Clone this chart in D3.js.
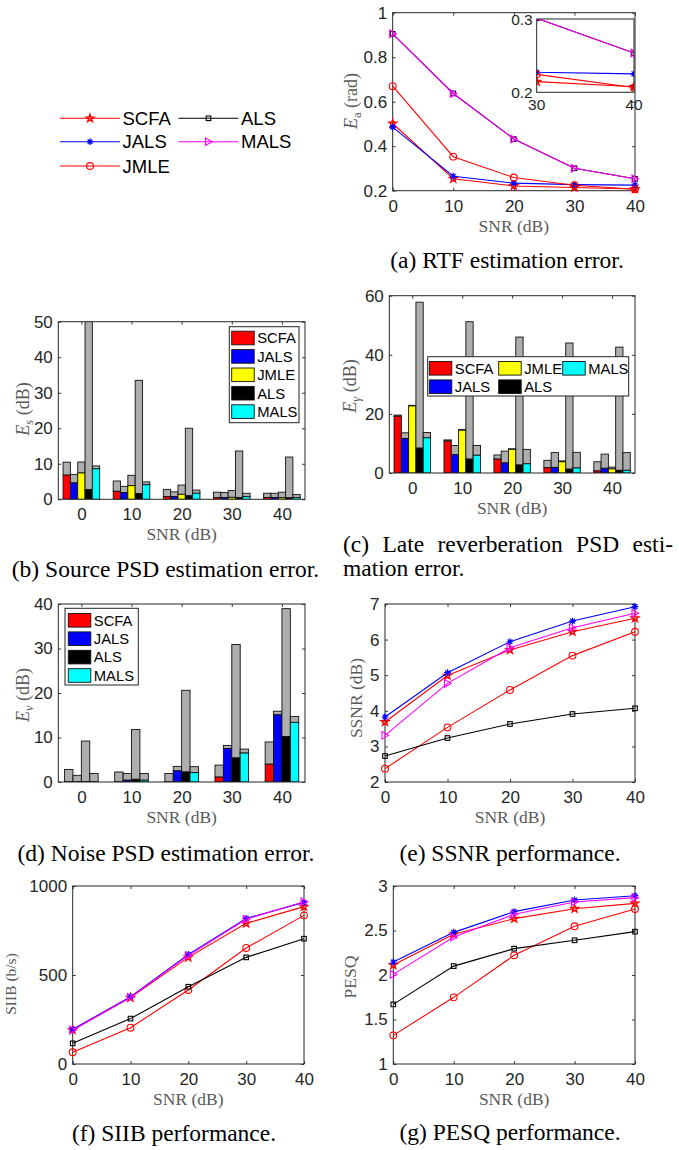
<!DOCTYPE html>
<html><head><meta charset="utf-8">
<script src="https://cdn.jsdelivr.net/npm/d3@7"></script>
<style>body{margin:0;background:#fff} svg{display:block}</style>
</head><body><svg id="c" width="679" height="1150"></svg>
<script>
// ---------------- data ----------------
const snr = [0, 10, 20, 30, 40];
const methodNames = ["SCFA", "JALS", "JMLE", "ALS", "MALS"];

// (a) RTF estimation error E_a (rad)
const rtfSCFA = [0.502, 0.254, 0.221, 0.2145, 0.2075];
const rtfJALS = [0.486, 0.265, 0.234, 0.2273, 0.2252];
const rtfJMLE = [0.670, 0.353, 0.259, 0.2245, 0.2065];
const rtfALS  = [0.905, 0.637, 0.432, 0.301, 0.2535];
const rtfMALS = [0.905, 0.637, 0.432, 0.301, 0.2535];

// (b) Source PSD error: coloured part and total (grey cap)
const srcSCFA = [6.8, 2.25, 0.75, 0.45, 0.5],  srcSCFATop = [10.45, 5.15, 2.8, 2.0, 1.7];
const srcJALS = [4.6, 1.9, 0.75, 0.45, 0.45], srcJALSTop = [7.0, 3.65, 2.1, 1.9, 1.7];
const srcJMLE = [7.4, 3.85, 1.4, 0.55, 0.45], srcJMLETop = [10.5, 6.75, 4.0, 2.5, 2.0];
const srcALS  = [2.7, 1.6, 1.0, 0.45, 0.4],   srcALSTop  = [52, 33.5, 20.0, 13.6, 11.9];
const srcMALS = [8.6, 4.1, 1.7, 0.75, 0.5],   srcMALSTop = [9.4, 4.9, 2.6, 1.7, 1.35];

// (c) Late reverberation PSD error
const revSCFA = [19.2, 10.8, 4.7, 1.8, 0.7],  revSCFATop = [19.6, 11.2, 6.1, 4.3, 3.8];
const revJALS = [11.7, 6.2, 3.4, 1.9, 1.6],   revJALSTop = [13.6, 9.3, 7.4, 6.9, 6.4];
const revJMLE = [22.7, 14.5, 8.0, 3.8, 1.4],  revJMLETop = [22.9, 14.7, 8.2, 4.1, 2.0];
const revALS  = [8.4, 4.7, 2.7, 1.3, 0.9],    revALSTop  = [57.8, 51.2, 46.0, 44.0, 42.6];
const revMALS = [11.9, 6.0, 3.1, 1.7, 0.9],   revMALSTop = [13.7, 9.3, 8.0, 7.0, 6.9];

// (d) Noise PSD error
const noiSCFA = [0.05, 0.05, 0.05, 1.1, 4.0], noiSCFATop = [2.8, 2.25, 1.9, 3.8, 9.0];
const noiJALS = [0.05, 0.4, 2.5, 7.5, 15.1],  noiJALSTop = [1.5, 1.9, 3.5, 8.2, 15.9];
const noiALS  = [0.1, 0.6, 2.25, 5.4, 10.2],  noiALSTop  = [9.2, 11.8, 20.6, 30.9, 38.95];
const noiMALS = [0.05, 0.4, 2.1, 6.5, 13.4],  noiMALSTop = [1.9, 1.9, 3.45, 7.4, 14.7];

// (e) SSNR (dB)
const ssnrSCFA = [3.685, 4.99, 5.71, 6.22, 6.60];
const ssnrJALS = [3.826, 5.07, 5.94, 6.52, 6.925];
const ssnrJMLE = [2.375, 3.535, 4.585, 5.55, 6.22];
const ssnrALS  = [2.73, 3.235, 3.63, 3.91, 4.07];
const ssnrMALS = [3.31, 4.77, 5.77, 6.335, 6.74];

// (f) SIIB (b/s)
const siibSCFA = [191, 373, 599, 790, 884];
const siibJALS = [195, 378, 616, 818, 908];
const siibJMLE = [66, 204, 416, 652, 835];
const siibALS  = [116, 255, 434, 599, 704];
const siibMALS = [191, 375, 610, 813, 912];

// (g) PESQ
const pesqSCFA = [2.112, 2.457, 2.633, 2.745, 2.805];
const pesqJALS = [2.146, 2.479, 2.712, 2.843, 2.891];
const pesqJMLE = [1.322, 1.749, 2.221, 2.547, 2.742];
const pesqALS  = [1.67, 2.10, 2.296, 2.39, 2.487];
const pesqMALS = [2.007, 2.427, 2.682, 2.82, 2.869];

const lineColor = {SCFA:"#ff0000", JALS:"#0000ff", JMLE:"#ff0000", ALS:"#000000", MALS:"#ff00ff"};
const lineMarker = {SCFA:"pentagram", JALS:"asterisk", JMLE:"circle", ALS:"square", MALS:"triangle"};
const barColor = {SCFA:"#ff0000", JALS:"#0000ff", JMLE:"#ffff00", ALS:"#000000", MALS:"#00ffff"};
const capColor = "#aeaeae";

// ---------------- helpers ----------------
const svg = d3.select("#c");
const SANS = "'Liberation Sans', Arial, Helvetica, sans-serif";
const SERIF = "'Liberation Serif', 'Times New Roman', serif";
const AX = "#262626", LBL = "#5a5a5a";
const TICKFS = 17;
let clipId = 0;

function drawMarker(g, type, x, y, color) {
  const sw = 1.1;
  if (type === "circle") {
    g.append("circle").attr("cx", x).attr("cy", y).attr("r", 3.4)
      .attr("fill", "none").attr("stroke", color).attr("stroke-width", sw);
  } else if (type === "square") {
    g.append("rect").attr("x", x - 2.3).attr("y", y - 2.3).attr("width", 4.6).attr("height", 4.6)
      .attr("fill", "none").attr("stroke", color).attr("stroke-width", sw);
  } else if (type === "triangle") {
    g.append("path").attr("d", `M${x-3},${y-3.8}L${x+3.6},${y}L${x-3},${y+3.8}Z`)
      .attr("fill", "none").attr("stroke", color).attr("stroke-width", sw);
  } else if (type === "pentagram") {
    g.append("path").attr("d", d3.symbol().type(d3.symbolStar).size(19)())
      .attr("transform", `translate(${x},${y})`)
      .attr("fill", "none").attr("stroke", color).attr("stroke-width", 1.3);
  } else if (type === "asterisk") {
    const r = 3.4, d = 2.4;
    g.append("path").attr("d", `M${x-r},${y}H${x+r}M${x},${y-r}V${y+r}M${x-d},${y-d}L${x+d},${y+d}M${x-d},${y+d}L${x+d},${y-d}`)
      .attr("fill", "none").attr("stroke", color).attr("stroke-width", 1.2);
  }
}

function styleAxis(ax, fs) {
  ax.select(".domain").remove();
  ax.selectAll("line").attr("stroke", AX).attr("stroke-width", 0.9);
  ax.selectAll("text").attr("font-size", fs).attr("font-family", SANS).attr("fill", AX);
}

function frame(g, x, y, o) {
  const [L, R] = x.range(), [B, T] = y.range();
  styleAxis(g.append("g").attr("transform", `translate(0,${B})`)
    .call(d3.axisBottom(x).tickValues(o.xt).tickFormat(o.xf).tickSize(-3).tickSizeOuter(0).tickPadding(8.8)), TICKFS);
  styleAxis(g.append("g").attr("transform", `translate(0,${T})`)
    .call(d3.axisTop(x).tickValues(o.xt).tickFormat("").tickSize(-3).tickSizeOuter(0)), TICKFS);
  styleAxis(g.append("g").attr("transform", `translate(${L},0)`)
    .call(d3.axisLeft(y).tickValues(o.yt).tickFormat(o.yf).tickSize(-3).tickSizeOuter(0).tickPadding(5.5)), TICKFS);
  styleAxis(g.append("g").attr("transform", `translate(${R},0)`)
    .call(d3.axisRight(y).tickValues(o.yt).tickFormat("").tickSize(-3).tickSizeOuter(0)), TICKFS);
}
function box(g, x, y) {
  const [L, R] = x.range(), [B, T] = y.range();
  g.append("rect").attr("x", L).attr("y", T).attr("width", R - L).attr("height", B - T)
    .attr("fill", "none").attr("stroke", AX).attr("stroke-width", 1);
}
function clipFor(g, x, y) {
  const [L, R] = x.range(), [B, T] = y.range();
  const id = "clip" + (clipId++);
  g.append("clipPath").attr("id", id).append("rect").attr("x", L).attr("y", T).attr("width", R - L).attr("height", B - T);
  return "url(#" + id + ")";
}

function xLabel(g, cx, yb) {
  g.append("text").attr("x", cx).attr("y", yb).attr("text-anchor", "middle")
    .attr("font-family", SERIF).attr("font-size", 17.5).attr("fill", LBL).text("SNR (dB)");
}
function yLabel(g, bx, cy, parts, fs) {
  fs = fs || 18;
  const t = g.append("text").attr("transform", `translate(${bx},${cy}) rotate(-90)`)
    .attr("text-anchor", "middle").attr("font-family", SERIF).attr("font-size", fs).attr("fill", LBL);
  parts.forEach(p => {
    const ts = t.append("tspan").text(p.t);
    if (p.i) ts.attr("font-style", "italic");
    if (p.sub) ts.attr("font-size", fs * 0.7).attr("dy", 4);
    if (p.up) ts.attr("dy", -4);
  });
}
function caption(text, cx, yb) {
  svg.append("text").attr("x", cx).attr("y", yb).attr("text-anchor", "middle")
    .attr("font-family", SERIF).attr("font-size", 23.5).attr("fill", "#000").text(text);
}
function justifyLine(words, x0, x1, yb) {
  const nodes = words.map(w => svg.append("text").attr("y", yb).attr("font-family", SERIF)
    .attr("font-size", 23.5).attr("fill", "#000").text(w));
  const widths = nodes.map(n => n.node().getComputedTextLength());
  const gap = (x1 - x0 - d3.sum(widths)) / (words.length - 1);
  let cx = x0;
  nodes.forEach((n, i) => { n.attr("x", cx); cx += widths[i] + gap; });
}

function linePanel(c) {
  const g = svg.append("g");
  const x = d3.scaleLinear().domain([0, 40]).range([c.L, c.R]);
  const y = d3.scaleLinear().domain(c.yd).range([c.B, c.T]);
  frame(g, x, y, {xt: snr, xf: d => String(d), yt: c.yt, yf: d => String(d)});
  box(g, x, y);
  c.series.forEach(s => {
    g.append("path").datum(s.v)
      .attr("d", d3.line().x((d, i) => x(snr[i])).y(d => y(d)))
      .attr("fill", "none").attr("stroke", lineColor[s.n]).attr("stroke-width", 1.1);
    s.v.forEach((v, i) => drawMarker(g, lineMarker[s.n], x(snr[i]), y(v), lineColor[s.n]));
  });
  xLabel(g, (c.L + c.R) / 2, c.B + 41);
  return {g, x, y};
}

function barPanel(c) {
  const g = svg.append("g");
  const x = d3.scaleLinear().domain([0.54, 5.46]).range([c.L, c.R]);
  const y = d3.scaleLinear().domain(c.yd).range([c.B, c.T]);
  frame(g, x, y, {xt: [1, 2, 3, 4, 5], xf: d => String(snr[d - 1]), yt: c.yt, yf: d => String(d)});
  const n = c.series.length, gw = n === 5 ? 0.73 : 0.67, bw = gw / n;
  const bars = g.append("g").attr("clip-path", clipFor(g, x, y));
  c.series.forEach((s, j) => {
    s.v.forEach((v, i) => {
      const x0 = x(i + 1 - gw / 2 + j * bw), x1 = x(i + 1 - gw / 2 + (j + 1) * bw);
      bars.append("rect").attr("x", x0).attr("width", x1 - x0)
        .attr("y", y(s.top[i])).attr("height", y(v) - y(s.top[i]))
        .attr("fill", capColor).attr("stroke", "#111").attr("stroke-width", 0.9);
      bars.append("rect").attr("x", x0).attr("width", x1 - x0)
        .attr("y", y(v)).attr("height", y(0) - y(v))
        .attr("fill", barColor[s.n]).attr("stroke", "#111").attr("stroke-width", 0.9);
    });
  });
  box(g, x, y);
  xLabel(g, (c.L + c.R) / 2, c.B + 41);
  return {g, x, y};
}

function barLegend(g, items, bx, by, bw, bh) {
  g.append("rect").attr("x", bx).attr("y", by).attr("width", bw).attr("height", bh)
    .attr("fill", "#fff").attr("stroke", "#222").attr("stroke-width", 1);
  items.forEach(it => {
    g.append("rect").attr("x", it.sx).attr("y", it.cy - 6.8).attr("width", 22.5).attr("height", 13.6)
      .attr("fill", barColor[it.n]).attr("stroke", "#111").attr("stroke-width", 0.9);
    g.append("text").attr("x", it.sx + 25.5).attr("y", it.cy).attr("dy", "0.36em")
      .attr("font-family", SANS).attr("font-size", 14.8).attr("fill", "#000").text(it.n);
  });
}

// ---------------- (a) ----------------
const pa = linePanel({L: 392.7, R: 635, T: 12.7, B: 190.7, yd: [0.2, 1],
  yt: [0.2, 0.4, 0.6, 0.8, 1], yf: d => d,
  series: [{n: "SCFA", v: rtfSCFA}, {n: "JALS", v: rtfJALS}, {n: "JMLE", v: rtfJMLE},
           {n: "ALS", v: rtfALS}, {n: "MALS", v: rtfMALS}]});
yLabel(pa.g, 357, 101, [{t: "E", i: true}, {t: "a", sub: true}, {t: " (rad)", up: true}]);

// inset
{
  const g = svg.append("g");
  const x = d3.scaleLinear().domain([30, 40]).range([536.7, 634]);
  const y = d3.scaleLinear().domain([0.2, 0.3]).range([92.3, 19]);
  g.append("rect").attr("x", 536.7).attr("y", 19).attr("width", 634 - 536.7).attr("height", 92.3 - 19).attr("fill", "#fff");
  const cp = g.append("g").attr("clip-path", clipFor(g, x, y));
  [{n: "SCFA", v: rtfSCFA}, {n: "JALS", v: rtfJALS}, {n: "JMLE", v: rtfJMLE},
   {n: "ALS", v: rtfALS}, {n: "MALS", v: rtfMALS}].forEach(s => {
    cp.append("path").datum(s.v).attr("d", d3.line().x((d, i) => x(snr[i])).y(d => y(d)))
      .attr("fill", "none").attr("stroke", lineColor[s.n]).attr("stroke-width", 1.1);
    s.v.forEach((v, i) => { if (snr[i] >= 30) drawMarker(cp, lineMarker[s.n], x(snr[i]), y(v), lineColor[s.n]); });
  });
  box(g, x, y);
  [[0.3, "0.3"], [0.2, "0.2"]].forEach(([v, t]) => g.append("text").attr("x", 532.7).attr("y", y(v)).attr("dy", "0.36em")
    .attr("text-anchor", "end").attr("font-family", SANS).attr("font-size", 15.5).attr("fill", AX).text(t));
  [[30, "30"], [40, "40"]].forEach(([v, t]) => g.append("text").attr("x", x(v)).attr("y", 110)
    .attr("text-anchor", "middle").attr("font-family", SANS).attr("font-size", 15.5).attr("fill", AX).text(t));
}

// legend (a), outside
{
  const g = svg.append("g");
  const items = [
    {n: "SCFA", x0: 60, y: 118.3}, {n: "JALS", x0: 60, y: 141.7}, {n: "JMLE", x0: 60, y: 166},
    {n: "ALS", x0: 178.5, y: 118.3}, {n: "MALS", x0: 178.5, y: 141.7}];
  items.forEach(it => {
    g.append("line").attr("x1", it.x0).attr("x2", it.x0 + 60).attr("y1", it.y).attr("y2", it.y)
      .attr("stroke", lineColor[it.n]).attr("stroke-width", 1.1);
    drawMarker(g, lineMarker[it.n], it.x0 + 30, it.y, lineColor[it.n]);
    g.append("text").attr("x", it.x0 + 62.5).attr("y", it.y).attr("dy", "0.36em")
      .attr("font-family", SANS).attr("font-size", 18.5).attr("fill", "#000").text(it.n);
  });
}
caption("(a) RTF estimation error.", 507, 268);

// ---------------- (b) ----------------
const pb = barPanel({L: 58.3, R: 305, T: 321.7, B: 499.3, yd: [0, 50], yt: [0, 10, 20, 30, 40, 50],
  series: [{n: "SCFA", v: srcSCFA, top: srcSCFATop}, {n: "JALS", v: srcJALS, top: srcJALSTop},
           {n: "JMLE", v: srcJMLE, top: srcJMLETop}, {n: "ALS", v: srcALS, top: srcALSTop},
           {n: "MALS", v: srcMALS, top: srcMALSTop}]});
yLabel(pb.g, 28.5, 409, [{t: "E", i: true}, {t: "s", i: true, sub: true}, {t: " (dB)", up: true}]);
barLegend(pb.g, methodNames.map((n, i) => ({n, sx: 231.7, cy: 338 + i * 18.4})), 229.3, 326.7, 69.7, 96);
caption("(b) Source PSD estimation error.", 165.5, 577);

// ---------------- (c) ----------------
const pc = barPanel({L: 389.3, R: 635, T: 295.7, B: 473, yd: [0, 60], yt: [0, 20, 40, 60],
  series: [{n: "SCFA", v: revSCFA, top: revSCFATop}, {n: "JALS", v: revJALS, top: revJALSTop},
           {n: "JMLE", v: revJMLE, top: revJMLETop}, {n: "ALS", v: revALS, top: revALSTop},
           {n: "MALS", v: revMALS, top: revMALSTop}]});
yLabel(pc.g, 356, 386, [{t: "E", i: true}, {t: "γ", i: true, sub: true}, {t: " (dB)", up: true}]);
barLegend(pc.g, [
  {n: "SCFA", sx: 429.3, cy: 368.3}, {n: "JMLE", sx: 498.7, cy: 368.3}, {n: "MALS", sx: 562.7, cy: 368.3},
  {n: "JALS", sx: 429.3, cy: 386.7}, {n: "ALS", sx: 498.7, cy: 386.7}], 427.7, 356.7, 201, 39.3);
justifyLine(["(c)", "Late", "reverberation", "PSD", "esti-"], 343, 673, 552);
svg.append("text").attr("x", 343).attr("y", 576).attr("font-family", SERIF).attr("font-size", 23.5).text("mation error.");

// ---------------- (d) ----------------
const pd = barPanel({L: 58.3, R: 305, T: 604, B: 782, yd: [0, 40], yt: [0, 10, 20, 30, 40],
  series: [{n: "SCFA", v: noiSCFA, top: noiSCFATop}, {n: "JALS", v: noiJALS, top: noiJALSTop},
           {n: "ALS", v: noiALS, top: noiALSTop}, {n: "MALS", v: noiMALS, top: noiMALSTop}]});
yLabel(pd.g, 28.5, 695, [{t: "E", i: true}, {t: "v", i: true, sub: true}, {t: " (dB)", up: true}]);
barLegend(pd.g, ["SCFA", "JALS", "ALS", "MALS"].map((n, i) => ({n, sx: 68.3, cy: 620.3 + i * 18.4})), 65, 608.3, 73.3, 76.7);
caption("(d) Noise PSD estimation error.", 166, 861);

// ---------------- (e) ----------------
const pe = linePanel({L: 385, R: 635, T: 604, B: 782, yd: [2, 7], yt: [2, 3, 4, 5, 6, 7], yf: d => d,
  series: [{n: "SCFA", v: ssnrSCFA}, {n: "JALS", v: ssnrJALS}, {n: "JMLE", v: ssnrJMLE},
           {n: "ALS", v: ssnrALS}, {n: "MALS", v: ssnrMALS}]});
yLabel(pe.g, 362, 698, [{t: "SSNR (dB)"}], 17.5);
caption("(e) SSNR performance.", 510, 861);

// ---------------- (f) ----------------
const pf = linePanel({L: 72.7, R: 304, T: 886, B: 1064, yd: [0, 1000], yt: [0, 500, 1000], yf: d => d,
  series: [{n: "SCFA", v: siibSCFA}, {n: "JALS", v: siibJALS}, {n: "JMLE", v: siibJMLE},
           {n: "ALS", v: siibALS}, {n: "MALS", v: siibMALS}]});
yLabel(pf.g, 15.5, 984, [{t: "SIIB (b/s)"}], 15.5);
caption("(f) SIIB performance.", 174, 1141);

// ---------------- (g) ----------------
const pg = linePanel({L: 393.3, R: 635, T: 886, B: 1064, yd: [1, 3], yt: [1, 1.5, 2, 2.5, 3], yf: d => d,
  series: [{n: "SCFA", v: pesqSCFA}, {n: "JALS", v: pesqJALS}, {n: "JMLE", v: pesqJMLE},
           {n: "ALS", v: pesqALS}, {n: "MALS", v: pesqMALS}]});
yLabel(pg.g, 356, 977, [{t: "PESQ"}], 17.5);
caption("(g) PESQ performance.", 510, 1140);
</script></body></html>
